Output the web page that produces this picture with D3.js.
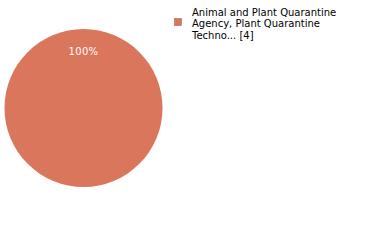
<!DOCTYPE html>
<html>
<head>
<meta charset="utf-8">
<script src="https://d3js.org/d3.v7.min.js"></script>
<style>
  body { margin: 0; background: #fff; }
  svg { display: block; }
</style>
</head>
<body>
<script>
// chart data
const categories = ["Animal and Plant Quarantine Agency, Plant Quarantine Techno... [4]"];
const values = [4];
const legendLines = [["Animal and Plant Quarantine", "Agency, Plant Quarantine", "Techno... [4]"]];
const colors = ["#da765b"];

const svg = d3.select("body").append("svg")
    .attr("width", 380)
    .attr("height", 240);

const cx = 83.5, cy = 108, r = 79;
const total = d3.sum(values);

const pie = d3.pie().sort(null).value(d => d)(values);
const arc = d3.arc().innerRadius(0).outerRadius(r);

const g = svg.append("g").attr("transform", `translate(${cx},${cy})`);
g.selectAll("path")
    .data(pie)
  .enter().append("path")
    .attr("d", arc)
    .attr("fill", (d, i) => colors[i]);

// percentage label near top of slice
g.selectAll("text.pct")
    .data(pie)
  .enter().append("text")
    .attr("class", "pct")
    .attr("x", 0)
    .attr("y", -r + 25.5)
    .attr("text-anchor", "middle")
    .attr("fill", "#fff")
    .style("font-family", "DejaVu Sans")
    .style("font-size", "10px")
    .style("letter-spacing", "0.3px")
    .text(d => Math.round(d.value / total * 100) + "%");

// legend
const legend = svg.append("g").attr("transform", "translate(174,6)");
categories.forEach((c, i) => {
  legend.append("rect")
      .attr("x", 0.5).attr("y", 12.5)
      .attr("width", 7).attr("height", 7)
      .attr("fill", colors[i])
      .attr("stroke", "#9a5a48")
      .attr("stroke-width", 0.5);
  const t = legend.append("text")
      .attr("x", 18).attr("y", 9.5)
      .style("font-family", "DejaVu Sans")
      .style("font-size", "10px")
      .attr("fill", "#000");
  legendLines[i].forEach((l, j) => {
    t.append("tspan").attr("x", 18).attr("dy", j === 0 ? 0 : 11.5).text(l);
  });
});
</script>
</body>
</html>
